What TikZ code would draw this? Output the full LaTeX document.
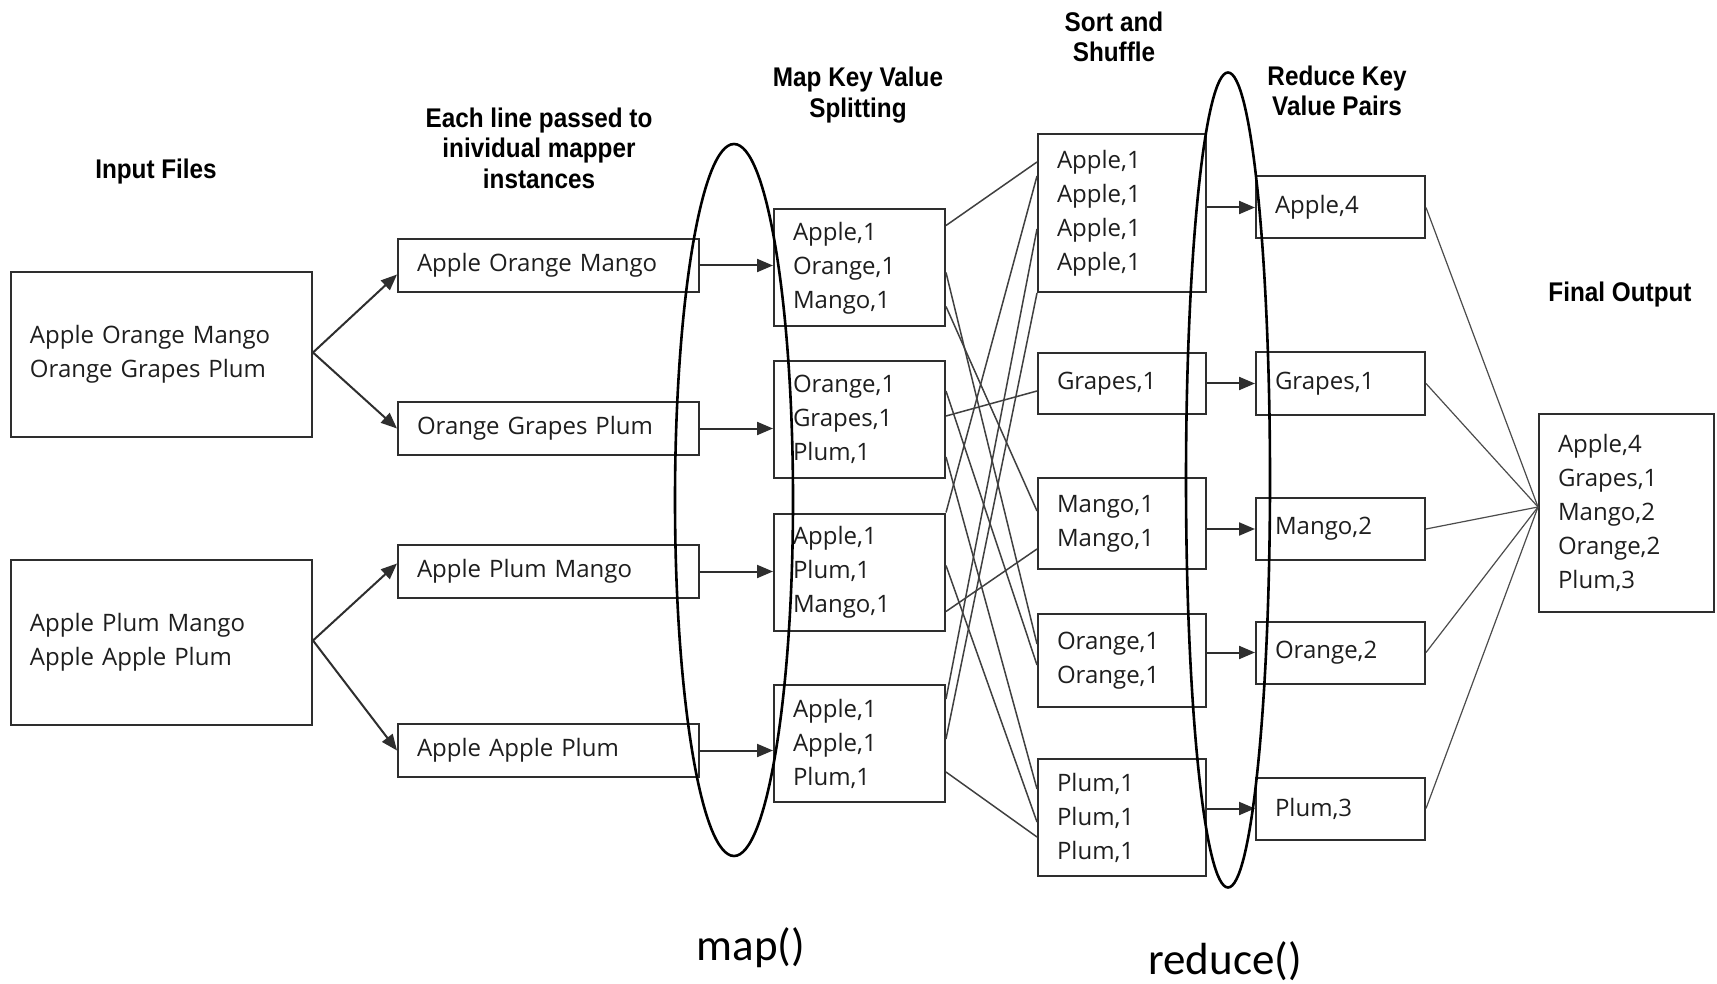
\documentclass[tikz,border=0pt]{standalone}
\usepackage{fontspec}
\setmainfont{Open Sans}
\newfontfamily\headfont[FakeStretch=0.9]{Liberation Sans}
\newfontfamily\labfont{Carlito}
\usetikzlibrary{shapes.geometric,arrows.meta,calc}
\definecolor{boxgray}{HTML}{2E2E2E}
\definecolor{txtgray}{HTML}{1E1E1E}

\begin{document}
\begin{tikzpicture}[x=1pt,y=-1pt,
  box/.style={draw=boxgray, line width=2pt, rectangle, inner xsep=19pt, inner ysep=0pt,
    align=left, text=txtgray, font=\fontsize{24}{34}\selectfont},
  inbox/.style={box, text width=263pt, minimum height=165pt},
  linebox/.style={box, text width=263pt, minimum height=53pt},
  mapbox/.style={box, text width=133pt, minimum height=117pt},
  sortbox/.style={box, text width=130pt, minimum height=#1},
  redbox/.style={box, text width=131pt, minimum height=62pt},
  outbox/.style={box, text width=137pt, minimum height=198pt},
  head/.style={align=center, inner sep=0pt, text=black,
    font=\headfont\bfseries\fontsize{27}{30.5}\selectfont},
  phase/.style={inner sep=0pt, text=black, font=\labfont\fontsize{45}{50}\selectfont},
  arr/.style={line width=2pt, draw=boxgray, -{Triangle[length=16pt,width=13pt]}},
  mix/.style={line width=1.5pt, draw=black!75},
  fin/.style={line width=1.2pt, draw=black!70},
  grp/.style={draw=black, line width=2.6pt, ellipse, inner sep=0pt}
]
\useasboundingbox[fill=white] (0,0) rectangle (1717,984);

% column headings
\node[head] (hin)  at (156,172)  {Input Files};
\node[head] (hline) at (539,148) {Each line passed to\\inividual mapper\\instances};
\node[head] (hmap) at (858,95)   {Map Key Value\\Splitting};
\node[head] (hsort) at (1114,37) {Sort and\\Shuffle};
\node[head] (hred) at (1337,91)  {Reduce Key\\Value Pairs};
\node[head] (hout) at (1620,295) {Final Output};

% input files
\node[inbox] (in1) at (161.5,354.5) {Apple Orange Mango\\Orange Grapes Plum};
\node[inbox] (in2) at (161.5,642.5) {Apple Plum Mango\\Apple Apple Plum};

% one line per mapper
\node[linebox] (lb1) at (548.5,265.5) {Apple Orange Mango};
\node[linebox] (lb2) at (548.5,428.5) {Orange Grapes Plum};
\node[linebox] (lb3) at (548.5,571.5) {Apple Plum Mango};
\node[linebox] (lb4) at (548.5,750.5) {Apple Apple Plum};

% mapper output
\node[mapbox] (m1) at (859.5,268)   {Apple,1\\Orange,1\\Mango,1};
\node[mapbox] (m2) at (859.5,419.5) {Orange,1\\Grapes,1\\Plum,1};
\node[mapbox] (m3) at (859.5,572)   {Apple,1\\Plum,1\\Mango,1};
\node[mapbox] (m4) at (859.5,743.5) {Apple,1\\Apple,1\\Plum,1};

% sorted and shuffled groups
\node[sortbox=158pt] (s1) at (1122,213)   {Apple,1\\Apple,1\\Apple,1\\Apple,1};
\node[sortbox=61pt]  (s2) at (1122,383.5) {Grapes,1};
\node[sortbox=91pt]  (s3) at (1122,523.5) {Mango,1\\Mango,1};
\node[sortbox=93pt]  (s4) at (1122,660.5) {Orange,1\\Orange,1};
\node[sortbox=117pt] (s5) at (1122,817.5) {Plum,1\\Plum,1\\Plum,1};

% reducer output
\node[redbox] (r1) at (1340.5,207.5) {Apple,4};
\node[redbox] (r2) at (1340.5,383.5) {Grapes,1};
\node[redbox] (r3) at (1340.5,529)   {Mango,2};
\node[redbox] (r4) at (1340.5,652.5) {Orange,2};
\node[redbox] (r5) at (1340.5,808.5) {Plum,3};

% final result
\node[outbox] (fo) at (1626.5,513) {Apple,4\\Grapes,1\\Mango,2\\Orange,2\\Plum,3};
\coordinate (hub) at ($(fo.west)+(0,-6)$);

% splitting the input files
\draw[arr] ($(in1.east)+(0,-2)$) -- ($(lb1.west)+(0,9)$);
\draw[arr] ($(in1.east)+(0,-2)$) -- (lb2.west);
\draw[arr] ($(in2.east)+(0,-2)$) -- ($(lb3.west)+(0,-8)$);
\draw[arr] ($(in2.east)+(0,-2)$) -- (lb4.west);

% feeding the mappers
\draw[arr] (lb1.east) -- (lb1.east -| m1.west);
\draw[arr] (lb2.east) -- (lb2.east -| m2.west);
\draw[arr] (lb3.east) -- (lb3.east -| m3.west);
\draw[arr] (lb4.east) -- (lb4.east -| m4.west);

% shuffle: every pair goes to the group of its key
\draw[mix] ($(m1.north east)+(0,17)$) -- ($(s1.north west)+(0,29)$);
\draw[mix] ($(m1.north east)+(0,64)$) -- ($(s4.north west)+(0,31)$);
\draw[mix] ($(m1.north east)+(0,98)$) -- ($(s3.north west)+(0,34)$);
\draw[mix] ($(m2.north east)+(0,31)$) -- ($(s4.north west)+(0,52)$);
\draw[mix] ($(m2.north east)+(0,56)$) -- ($(s2.north west)+(0,39)$);
\draw[mix] ($(m2.north east)+(0,97)$) -- ($(s5.north west)+(0,31)$);
\draw[mix] (m3.north east) -- ($(s1.north west)+(0,43)$);
\draw[mix] ($(m3.north east)+(0,53)$) -- ($(s5.north west)+(0,64)$);
\draw[mix] ($(m3.north east)+(0,99)$) -- ($(s3.north west)+(0,72)$);
\draw[mix] ($(m4.north east)+(0,15)$) -- ($(s1.north west)+(0,96)$);
\draw[mix] ($(m4.north east)+(0,55)$) -- (s1.south west);
\draw[mix] ($(m4.north east)+(0,88)$) -- ($(s5.north west)+(0,79)$);

% feeding the reducers
\draw[arr] (r1.west -| s1.east) -- (r1.west);
\draw[arr] (r2.west -| s2.east) -- (r2.west);
\draw[arr] (r3.west -| s3.east) -- (r3.west);
\draw[arr] (r4.west -| s4.east) -- (r4.west);
\draw[arr] (r5.west -| s5.east) -- (r5.west);

% collecting the results
\foreach \r in {r1,r2,r3,r4,r5}
  \draw[fin] (\r.east) -- (hub);

% map and reduce phases
\node[grp, minimum width=118pt, minimum height=712pt] (mapgrp) at (734,500) {};
\node[grp, minimum width=84pt, minimum height=815pt] (redgrp) at (1228,480) {};
\node[phase] (mapl) at (751,948) {map()};
\node[phase] (redl) at (1225,961) {reduce()};
\end{tikzpicture}
\end{document}
